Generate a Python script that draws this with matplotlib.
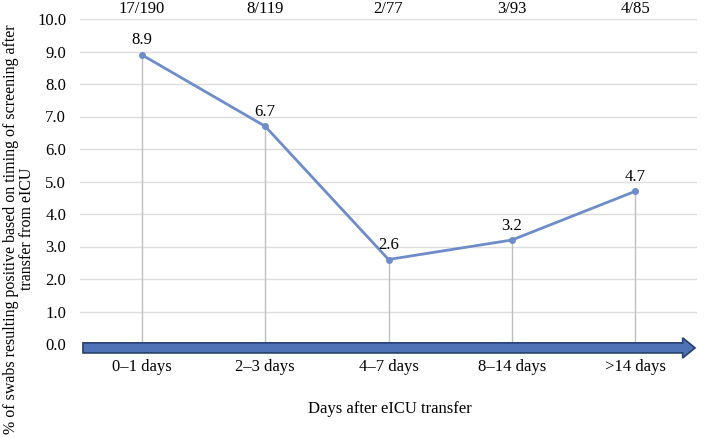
import matplotlib.pyplot as plt
from matplotlib.patches import FancyArrow

# Data
categories = ['0\u20131 days', '2\u20133 days', '4\u20137 days', '8\u201314 days', '>14 days']
pct_positive = [8.9, 6.7, 2.6, 3.2, 4.7]
counts = ['17/190', '8/119', '2/77', '3/93', '4/85']

plt.rcParams['font.family'] = ['Liberation Serif', 'DejaVu Serif']

fig = plt.figure(figsize=(7.09, 4.37), dpi=100)
ax = fig.add_axes([80 / 709, 1 - 344 / 437, 617 / 709, 325 / 437])

x = list(range(len(categories)))
line_color = '#6e8dc8'

# horizontal grid
for yv in range(1, 11):
    ax.axhline(yv, color='#dddddd', lw=1, zorder=0)

# drop lines to the axis
ax.vlines(x, 0, pct_positive, color='#bfbfbf', lw=1, zorder=1)

ax.plot(x, pct_positive, color=line_color, lw=2, marker='o', ms=4, zorder=3)

for xi, v in zip(x, pct_positive):
    ax.text(xi, v + 0.2, f'{v:.1f}', ha='center', va='bottom', fontsize=12)

for xi, c in zip(x, counts):
    ax.text(xi, 10.3, c, ha='center', va='center', fontsize=12)

# arrow along the x axis
arrow = FancyArrow(-0.476, -0.12, 4.96, 0, width=0.31, head_width=0.62,
                   head_length=0.1, length_includes_head=True,
                   facecolor='#4f72b6', edgecolor='#26406e', lw=1.2,
                   clip_on=False, zorder=4)
ax.add_patch(arrow)

ax.set_xlim(-0.5, 4.5)
ax.set_ylim(0, 10)
ax.set_xticks(x)
ax.set_xticklabels(categories, fontsize=12)
ax.set_yticks(range(0, 11))
ax.set_yticklabels([f'{v:.1f}' for v in range(0, 11)], fontsize=12)
ax.tick_params(length=0)
ax.tick_params(axis='x', pad=11)
ax.tick_params(axis='y', pad=10)
for s in ax.spines.values():
    s.set_visible(False)

fig.text(19 / 709, 1 - 229 / 437,
         '% of swabs resulting positive based on timing of screening after\ntransfer from eICU',
         rotation=90, ha='center', va='center', fontsize=11.5, linespacing=1.0)
fig.text(390 / 709, 1 - 409 / 437, 'Days after eICU transfer', ha='center', va='center',
         fontsize=12)

fig.savefig('out.png', dpi=100)
